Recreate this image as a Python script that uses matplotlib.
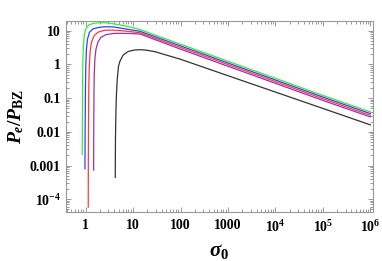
import numpy as np
import matplotlib
matplotlib.use('Agg')
import matplotlib.pyplot as plt
from matplotlib.ticker import FixedLocator, LogLocator, NullFormatter

plt.rcParams['font.family'] = 'Liberation Serif'
plt.rcParams['font.weight'] = 'bold'
plt.rcParams['mathtext.fontset'] = 'custom'
plt.rcParams['mathtext.rm'] = 'Liberation Serif:bold'
plt.rcParams['mathtext.it'] = 'Liberation Serif:bold:italic'
plt.rcParams['mathtext.bf'] = 'Liberation Serif:bold'

# sigma_0 and P_e/P_BZ
sig_green = [0.848, 0.856, 0.864, 0.877, 0.899, 0.943, 1.015, 1.174, 1.50, 2.10, 2.95,
             5.29, 8.60, 14.0, 100, 1000, 1e4, 1e5, 1e6]
p_green = [0.00213, 0.0233, 0.359, 1.41, 3.92, 7.77, 11.7, 14.9, 16.7, 17.3, 17.0,
           14.9, 12.9, 10.8, 3.98, 1.24, 0.387, 0.120, 0.039]

sig_blue = [0.967, 0.976, 0.990, 1.010, 1.040, 1.091, 1.203, 1.426, 2.00, 2.68, 3.95,
            7.08, 14.0, 100, 1000, 1e4, 1e5, 1e6]
p_blue = [0.00080, 0.0118, 0.181, 1.0, 2.79, 5.52, 8.90, 11.3, 12.7, 13.1, 12.9,
          11.2, 9.60, 3.54, 1.10, 0.344, 0.107, 0.0347]

sig_red = [1.135, 1.140, 1.151, 1.168, 1.197, 1.244, 1.326, 1.50, 1.82, 2.43, 3.59,
           5.29, 8.60, 14.0, 100, 1000, 1e4, 1e5, 1e6]
p_red = [5.83e-5, 0.00152, 0.0233, 0.255, 1.0, 2.43, 4.50, 7.01, 9.03, 10.2, 10.4,
         10.1, 9.40, 8.72, 3.18, 0.99, 0.309, 0.096, 0.031]

sig_purple = [1.475, 1.482, 1.497, 1.518, 1.563, 1.649, 1.82, 2.10, 2.68, 3.95, 5.83,
              8.60, 14.0, 100, 1000, 1e4, 1e5, 1e6]
p_purple = [0.00073, 0.0118, 0.129, 0.505, 1.41, 2.79, 4.66, 6.33, 7.61, 8.32, 8.37,
            8.26, 7.98, 2.83, 0.88, 0.275, 0.0853, 0.0277]

sig_black = [4.21, 4.25, 4.36, 4.46, 4.64, 4.92, 5.29, 6.21, 7.92, 10.97, 15.4, 20.6,
             29.0, 100, 1000, 1e4, 1e5, 1e6]
p_black = [0.000443, 0.00594, 0.0462, 0.129, 0.359, 0.872, 1.25, 1.91, 2.43, 2.69, 2.73,
           2.60, 2.38, 1.42, 0.462, 0.151, 0.0494, 0.0161]

xticks = [1, 10, 100, 1000, 1e4, 1e5, 1e6]
xticklabels = ['1', '10', '100', '1000', r'$10^{4}$', r'$10^{5}$', r'$10^{6}$']
yticks = [1e-4, 1e-3, 1e-2, 0.1, 1, 10]
yticklabels = [r'$10^{-4}$', '0.001', '0.01', '0.1', '1', '10']

fig = plt.figure(figsize=(3.82, 2.61), dpi=100)
ax = fig.add_axes([0.172, 0.188, 0.804, 0.733])

ax.plot(sig_green, p_green, color='#33ee33', lw=0.9)
ax.plot(sig_blue, p_blue, color='#3b3bff', lw=0.9)
ax.plot(sig_red, p_red, color='#ff3b3b', lw=0.9)
ax.plot(sig_purple, p_purple, color='#9933aa', lw=0.9)
ax.plot(sig_black, p_black, color='#333333', lw=0.9)

ax.set_xscale('log')
ax.set_yscale('log')
ax.set_xlim(0.38, 1.13e6)
ax.set_ylim(4.2e-5, 19.9)

ax.xaxis.set_major_locator(FixedLocator(xticks))
ax.set_xticklabels(xticklabels)
ax.yaxis.set_major_locator(FixedLocator(yticks))
ax.set_yticklabels(yticklabels)
ax.xaxis.set_minor_locator(LogLocator(base=10, subs=np.arange(2, 10), numticks=20))
ax.yaxis.set_minor_locator(LogLocator(base=10, subs=np.arange(2, 10), numticks=20))
ax.xaxis.set_minor_formatter(NullFormatter())
ax.yaxis.set_minor_formatter(NullFormatter())

ax.tick_params(which='both', direction='in', top=True, right=True, color='#888888',
               width=0.6, labelsize=10, pad=3.5)
ax.tick_params(axis='x', pad=5)
ax.tick_params(which='major', length=3.5)
ax.tick_params(which='minor', length=2)
for s in ax.spines.values():
    s.set_color('#999999')
    s.set_linewidth(0.8)

ax.set_xlabel(r'$\sigma_0$', fontsize=15, labelpad=5)
ax.set_ylabel(r'$P_e/P_{\mathrm{BZ}}$', fontsize=14, labelpad=3)

fig.savefig('out.png', dpi=100)
